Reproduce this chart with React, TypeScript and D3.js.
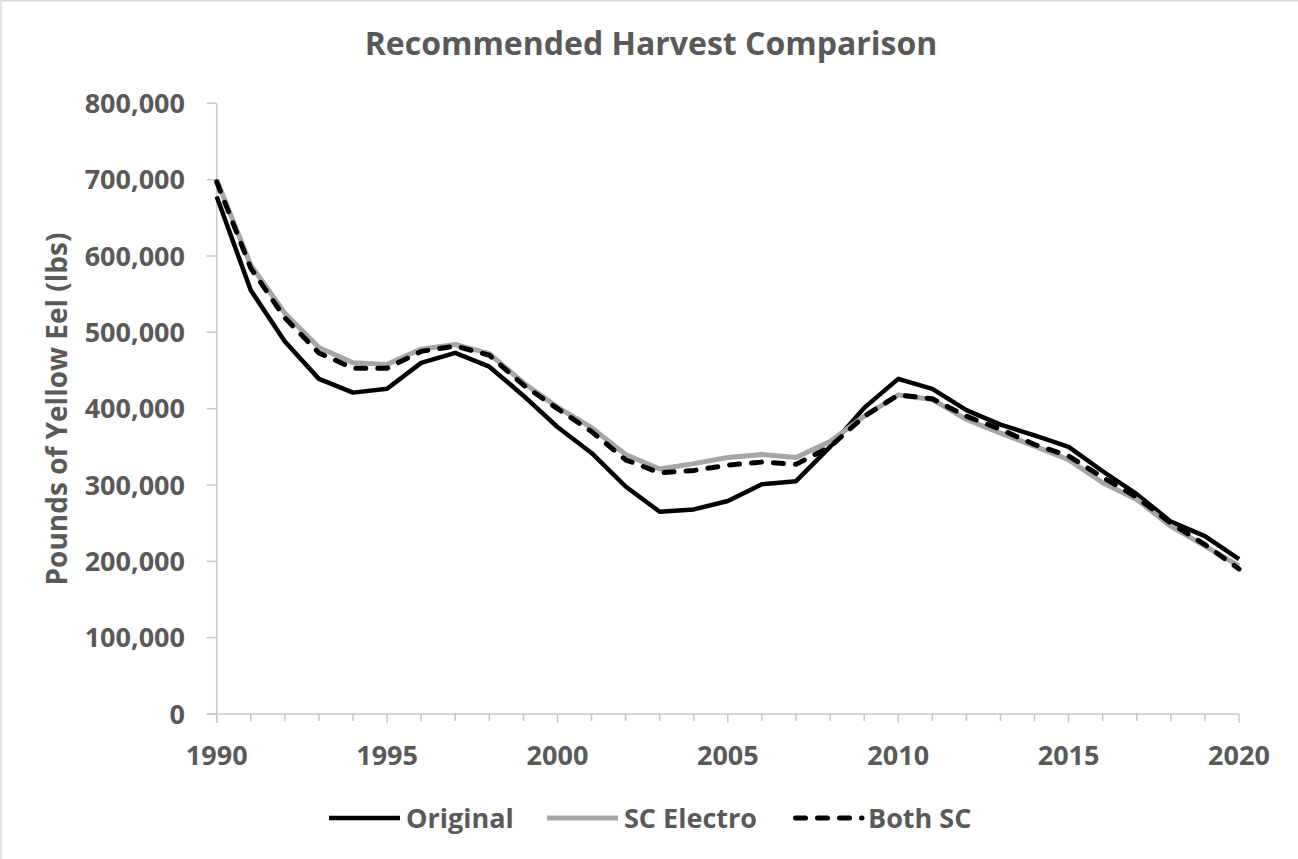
import React from "react";
import * as d3 from "d3";

const years = d3.range(1990, 2021);
const original = [678000, 555000, 488000, 439000, 421000, 426000, 460000, 473000, 455000, 417000, 376000, 342000, 298000, 265000, 268000, 279000, 301000, 305000, 350000, 401000, 439000, 426000, 398000, 379000, 365000, 350000, 318000, 288000, 252000, 233000, 203000];
const scElectro = [700000, 588000, 525000, 480000, 460000, 458000, 478000, 484000, 472000, 434000, 402000, 375000, 340000, 321000, 328000, 336000, 340000, 336000, 357000, 390000, 418000, 412000, 386000, 368000, 351000, 333000, 303000, 281000, 246000, 220000, 194000];
const bothSC = [697000, 584000, 519000, 473000, 453000, 453000, 475000, 482000, 470000, 431000, 400000, 370000, 333000, 316000, 319000, 326000, 330000, 327000, 350000, 390000, 418000, 413000, 390000, 373000, 353000, 338000, 310000, 284000, 250000, 222000, 190000];
const yTicks = [0, 100000, 200000, 300000, 400000, 500000, 600000, 700000, 800000];
const xTickLabels = [1990, 1995, 2000, 2005, 2010, 2015, 2020];
const seriesNames = ["Original", "SC Electro", "Both SC"];

const W = 1298;
const H = 859;
const FONT = "'Open Sans', sans-serif";
const TEXT = "#595959";
const AXIS = "#c8c8c8";

export default function App() {
  const x = d3.scaleLinear().domain([1990, 2020]).range([216.7, 1239]);
  const y = d3.scaleLinear().domain([0, 800000]).range([714, 103.3]);
  const fmt = d3.format(",");

  const line = d3
    .line<number>()
    .x((_, i) => x(years[i]))
    .y((d) => y(d));

  const styles = [
    { stroke: "#000000", width: 4.5, dash: undefined as string | undefined, cap: "butt" },
    { stroke: "#a6a6a6", width: 5, dash: undefined as string | undefined, cap: "butt" },
    { stroke: "#000000", width: 5, dash: "10 12", cap: "round" },
  ];
  const data = [original, scElectro, bothSC];

  const legendItems = [
    { x1: 329, x2: 400, tx: 406 },
    { x1: 547, x2: 618, tx: 624 },
    { x1: 793, x2: 862, tx: 868 },
  ];
  const legendY = 818;

  return (
    <svg
      width={W}
      height={H}
      style={{ position: "absolute", left: 0, top: 0, background: "#fff" }}
      fontFamily={FONT}
    >
      <rect x={0} y={0} width={W} height={H} fill="#fff" />
      <rect x={1} y={0.75} width={W + 50} height={H + 50} fill="none" stroke="#d9d9d9" strokeWidth={1.5} />

      <text x={651} y={55} textAnchor="middle" fontSize={32} fontWeight={700} fill={TEXT}>
        Recommended Harvest Comparison
      </text>

      {/* y axis */}
      <line x1={x(1990)} x2={x(1990)} y1={y(800000)} y2={y(0) + 9} stroke={AXIS} strokeWidth={1.5} />
      {yTicks.map((t) => (
        <g key={t}>
          <line x1={x(1990) - 10} x2={x(1990)} y1={y(t)} y2={y(t)} stroke={AXIS} strokeWidth={1.5} />
          <text x={185} y={y(t)} dy="0.36em" textAnchor="end" fontSize={27} fontWeight={700} fill={TEXT}>
            {fmt(t)}
          </text>
        </g>
      ))}

      {/* x axis */}
      <line x1={x(1990) - 10} x2={x(2020)} y1={y(0)} y2={y(0)} stroke={AXIS} strokeWidth={1.5} />
      {years.map((yr) => (
        <line
          key={yr}
          x1={x(yr)}
          x2={x(yr)}
          y1={y(0)}
          y2={y(0) + (yr % 5 === 0 ? 9 : 7)}
          stroke={AXIS}
          strokeWidth={1.5}
        />
      ))}
      {xTickLabels.map((yr) => (
        <text key={yr} x={x(yr)} y={765} textAnchor="middle" fontSize={27} fontWeight={700} fill={TEXT}>
          {yr}
        </text>
      ))}

      <text
        transform={`translate(67,409) rotate(-90)`}
        textAnchor="middle"
        fontSize={28}
        fontWeight={700}
        fill={TEXT}
      >
        Pounds of Yellow Eel (lbs)
      </text>

      {/* series */}
      {data.map((d, i) => (
        <path
          key={i}
          d={line(d) || ""}
          fill="none"
          stroke={styles[i].stroke}
          strokeWidth={styles[i].width}
          strokeDasharray={styles[i].dash}
          strokeLinecap={styles[i].cap as any}
          strokeLinejoin="round"
        />
      ))}

      {/* legend */}
      {legendItems.map((li, i) => (
        <g key={i}>
          <line
            x1={li.x1 + (styles[i].dash ? 2.5 : 0)}
            x2={li.x2}
            y1={legendY}
            y2={legendY}
            stroke={styles[i].stroke}
            strokeWidth={styles[i].width}
            strokeDasharray={styles[i].dash}
            strokeLinecap={styles[i].cap as any}
          />
          <text x={li.tx} y={legendY} dy="0.36em" fontSize={27} fontWeight={700} fill={TEXT}>
            {seriesNames[i]}
          </text>
        </g>
      ))}
    </svg>
  );
}
